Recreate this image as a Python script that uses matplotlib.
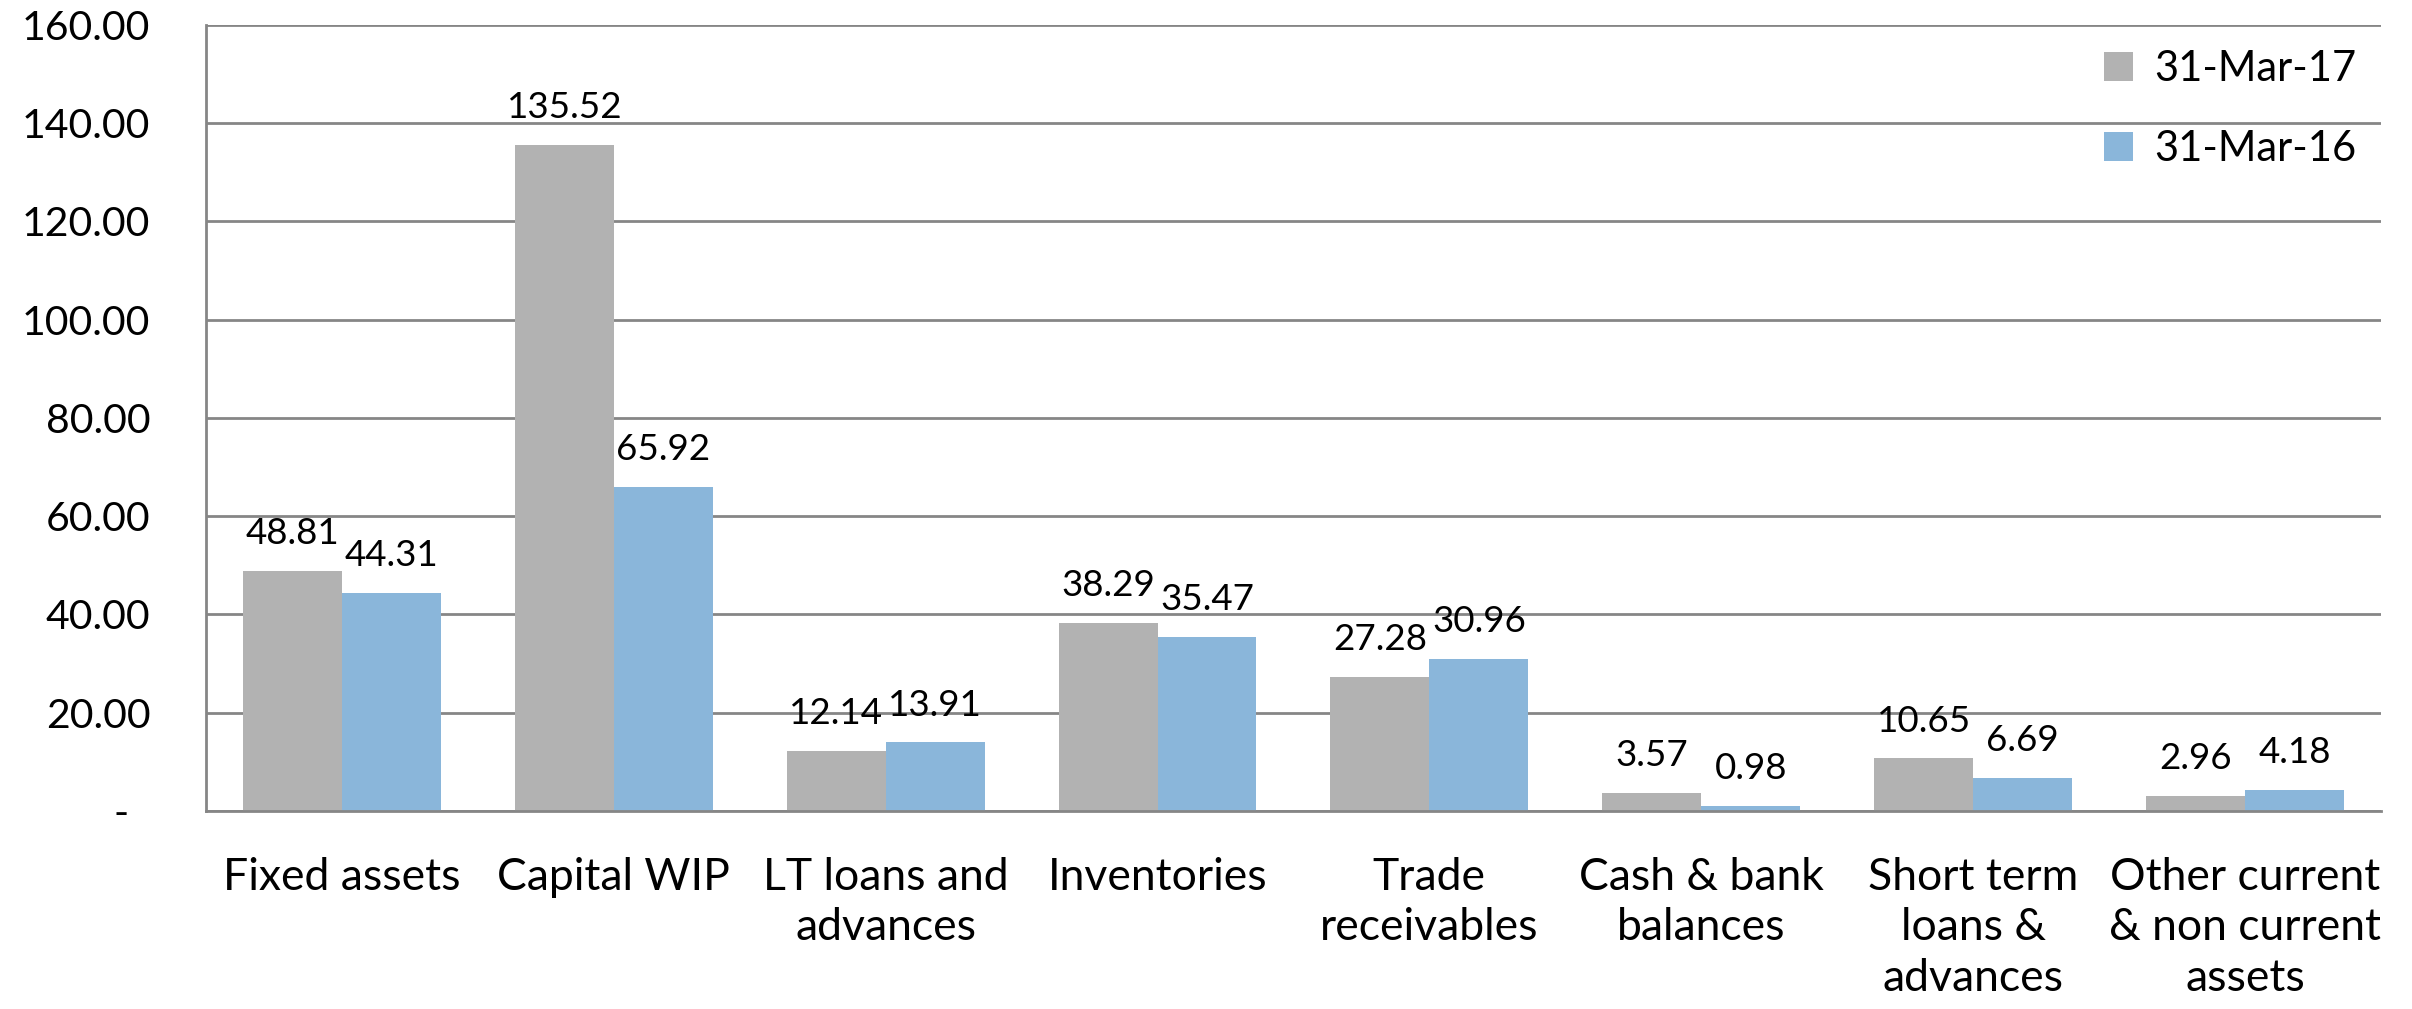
import matplotlib
matplotlib.use("Agg")
import matplotlib.pyplot as plt
import numpy as np

# data
categories = ["Fixed assets", "Capital WIP", "LT loans and\nadvances", "Inventories",
              "Trade\nreceivables", "Cash & bank\nbalances", "Short term\nloans &\nadvances",
              "Other current\n& non current\nassets"]
mar17 = [48.81, 135.52, 12.14, 38.29, 27.28, 3.57, 10.65, 2.96]
mar16 = [44.31, 65.92, 13.91, 35.47, 30.96, 0.98, 6.69, 4.18]
series_names = ["31-Mar-17", "31-Mar-16"]
yticks = [0, 20, 40, 60, 80, 100, 120, 140, 160]

plt.rcParams['font.family'] = ['Lato', 'DejaVu Sans']

fig = plt.figure(figsize=(24.12, 10.09), dpi=100)
ax = fig.add_axes([0.0854, 0.1965, 0.9017, 0.7787])

x = np.arange(len(categories))
w = 0.364
grey = "#B2B2B2"
blue = "#8AB6DA"
b1 = ax.bar(x - w/2, mar17, w, color=grey, label=series_names[0], zorder=2)
b2 = ax.bar(x + w/2, mar16, w, color=blue, label=series_names[1], zorder=2)

for bars, vals in ((b1, mar17), (b2, mar16)):
    for r, v in zip(bars, vals):
        ax.annotate("%.2f" % v, (r.get_x() + r.get_width()/2, v),
                    xytext=(0, 15), textcoords="offset points",
                    ha="center", va="bottom", fontsize=26.5, zorder=3)

ax.set_xlim(-0.5, len(categories) - 0.5)
ax.set_ylim(0, 160)
ax.set_yticks(yticks)
ax.set_yticklabels(["-  "] + ["%.2f" % t for t in yticks[1:]], fontsize=29.5)
ax.set_xticks(x)
ax.set_xticklabels(categories, fontsize=32, linespacing=1.3)
ax.tick_params(axis="y", length=0, pad=40)
ax.tick_params(axis="x", length=0, pad=33)

ax.yaxis.grid(True, color="#868686", linewidth=2, zorder=0)
ax.set_axisbelow(True)
for s in ("top", "right"):
    ax.spines[s].set_visible(False)
for s in ("left", "bottom"):
    ax.spines[s].set_color("#868686")
    ax.spines[s].set_linewidth(2)

leg = ax.legend(loc="upper right", bbox_to_anchor=(1.0, 1.0), frameon=False, fontsize=30,
                handlelength=0.7, handleheight=0.7, handletextpad=0.5, labelspacing=1.0,
                borderaxespad=0.2)

fig.savefig("out.png", dpi=100)
